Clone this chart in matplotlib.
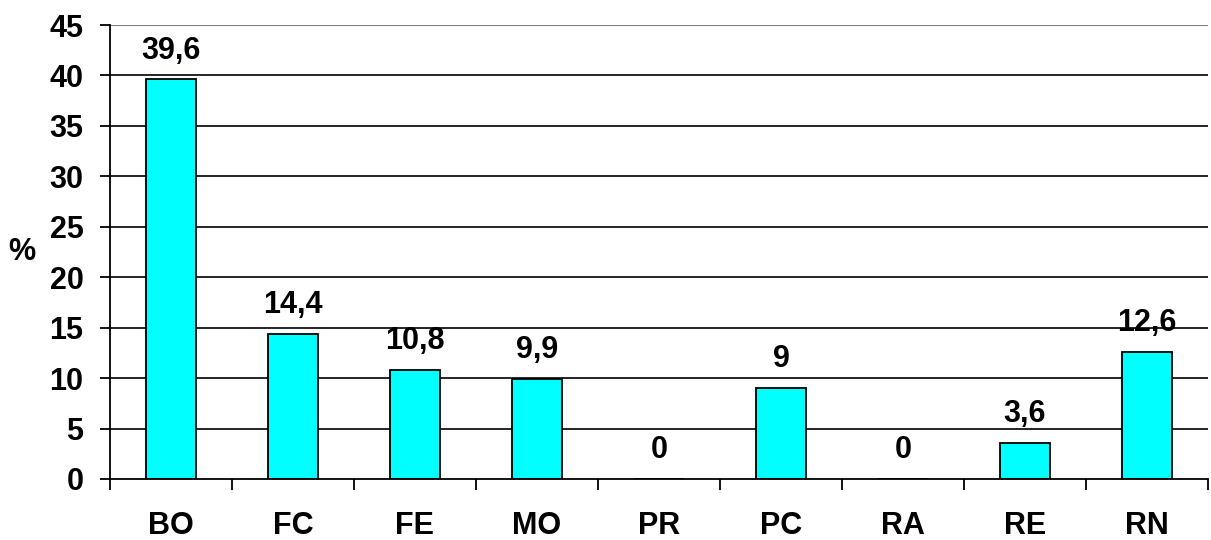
import matplotlib.pyplot as plt
import numpy as np

plt.rcParams['font.family'] = ['Liberation Sans', 'DejaVu Sans']
plt.rcParams['font.weight'] = 'bold'

categories = ['BO', 'FC', 'FE', 'MO', 'PR', 'PC', 'RA', 'RE', 'RN']
values = [39.6, 14.4, 10.8, 9.9, 0, 9, 0, 3.6, 12.6]
value_labels = ['39,6', '14,4', '10,8', '9,9', '0', '9', '0', '3,6', '12,6']

FS = 22

fig = plt.figure(figsize=(12.11, 5.4), dpi=100)
ax = fig.add_axes([0.0908, 0.113, 0.9067, 0.8407])

x = np.arange(len(categories))
ax.set_xlim(-0.5, len(categories) - 0.5)
ax.set_ylim(0, 45)

for y in range(5, 45, 5):
    ax.axhline(y, color='black', linewidth=1.2, zorder=1)
ax.axhline(45, color='#808080', linewidth=1.5, zorder=1)

bars = ax.bar(x, values, width=0.41, color='#00FFFF', edgecolor='black',
              linewidth=1.3, zorder=2)

for xi, v, lab in zip(x, values, value_labels):
    ax.annotate(lab, (xi, v), xytext=(0, 10), textcoords='offset points',
                ha='center', va='bottom', fontsize=FS, fontweight='bold')

for s in ['top', 'right']:
    ax.spines[s].set_visible(False)
ax.spines['left'].set_linewidth(1.3)
ax.spines['bottom'].set_linewidth(1.3)

ax.set_yticks(range(0, 50, 5))
ax.set_yticklabels([str(v) for v in range(0, 50, 5)], fontsize=FS, fontweight='bold')
ax.tick_params(axis='y', length=7, width=1.3, pad=12)

ax.set_xticks(np.arange(-0.5, len(categories), 1.0))
ax.set_xticklabels([])
ax.tick_params(axis='x', which='major', length=8, width=1.3)
ax.set_xticks(x, minor=True)
ax.set_xticklabels(categories, minor=True, fontsize=FS, fontweight='bold')
ax.tick_params(axis='x', which='minor', length=0, pad=23)

ax.set_ylabel('%', fontsize=FS, fontweight='bold', rotation=0, labelpad=20, va='center')

fig.savefig('out.png', dpi=100)
